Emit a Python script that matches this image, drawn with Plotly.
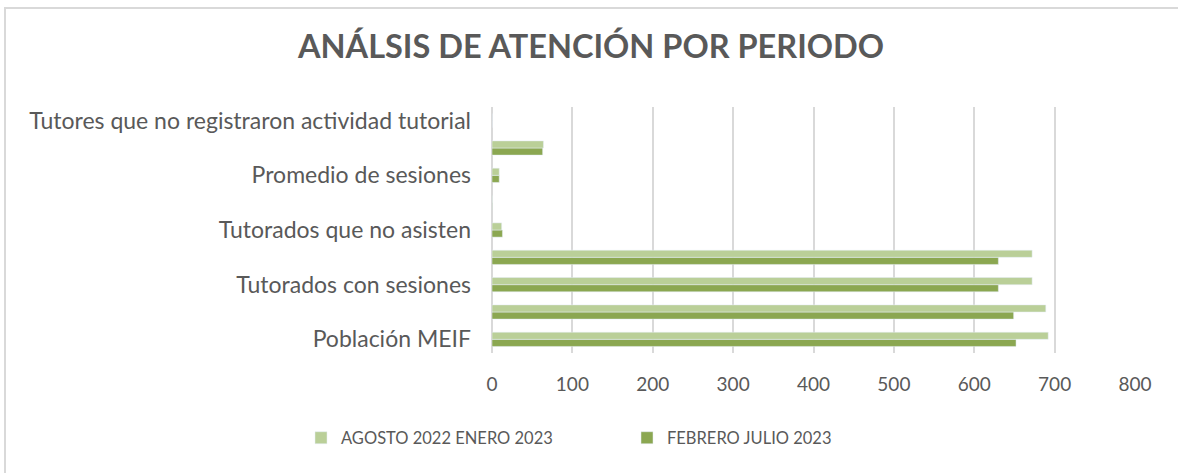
import plotly.graph_objects as go

categories = [
    "Población MEIF",
    "Tutorados asignados",
    "Tutorados con sesiones",
    "Tutorados atendidos",
    "Tutorados que no asisten",
    "Porcentaje de inasistencia",
    "Promedio de sesiones",
    "Tutores",
    "Tutores que no registraron actividad tutorial",
]
shown_labels = [
    "Población MEIF",
    "Tutorados con sesiones",
    "Tutorados que no asisten",
    "Promedio de sesiones",
    "Tutores que no registraron actividad tutorial",
]
agosto_2022_enero_2023 = [692, 689, 672, 672, 12, 0.4, 9, 64, 0]
febrero_julio_2023 = [652, 649, 630, 630, 13, 0.4, 9, 63, 0]
x_ticks = [0, 100, 200, 300, 400, 500, 600, 700, 800]

FONT = "Lato"
GRAY = "#595959"
GRID = "#D9D9D9"

fig = go.Figure()
fig.add_trace(go.Bar(
    y=categories, x=febrero_julio_2023, orientation="h",
    name="FEBRERO JULIO 2023", marker=dict(color="#8BA751"),
))
fig.add_trace(go.Bar(
    y=categories, x=agosto_2022_enero_2023, orientation="h",
    name="AGOSTO 2022 ENERO 2023", marker=dict(color="#BACF98"),
))

W, H = 1178, 473
ml, mr, mt, mb = 492, 43, 107, 120
pw, ph = W - ml - mr, H - mt - mb

fig.update_layout(
    width=W, height=H,
    margin=dict(l=ml, r=mr, t=mt, b=mb, autoexpand=False),
    paper_bgcolor="white", plot_bgcolor="white",
    barmode="group", bargap=0.48, bargroupgap=0,
    font=dict(family=FONT, color=GRAY),
    title=dict(
        text="<b>ANÁLSIS DE ATENCIÓN POR PERIODO</b>",
        x=591 / W, xanchor="center", y=1 - 47 / H, yanchor="middle",
        font=dict(size=32.5, color=GRAY, family=FONT),
    ),
    xaxis=dict(
        range=[0, 800], tickvals=x_ticks, showgrid=True, gridcolor=GRID, gridwidth=1.8,
        zeroline=True, zerolinecolor=GRID, zerolinewidth=1.8,
        showline=False, ticks="", tickfont=dict(size=19, color=GRAY, family=FONT),
        ticklabelstandoff=18, fixedrange=True,
    ),
    yaxis=dict(
        categoryorder="array", categoryarray=categories,
        tickvals=shown_labels, ticktext=shown_labels,
        showgrid=False, showline=False, ticks="",
        tickfont=dict(size=23, color=GRAY, family=FONT),
        ticklabelstandoff=20, fixedrange=True,
    ),
    legend=dict(
        orientation="h", traceorder="reversed",
        x=(301 - ml) / pw, xanchor="left",
        y=(mt + ph - 438) / ph, yanchor="middle",
        font=dict(size=16.5, color=GRAY, family=FONT),
        entrywidth=281, entrywidthmode="pixels",
    ),
    showlegend=True,
)

# outer chart border
fig.add_shape(
    type="rect", xref="paper", yref="paper",
    x0=(5 - ml) / pw, x1=(W + 10 - ml) / pw,
    y0=(mt + ph - (H + 10)) / ph, y1=(mt + ph - 8) / ph,
    line=dict(color=GRID, width=2), fillcolor="rgba(0,0,0,0)", layer="below",
)

fig.write_html(
    "out.html",
    config={"displayModeBar": False},
    post_script="document.body.style.margin='0';document.body.style.overflow='hidden';",
)
